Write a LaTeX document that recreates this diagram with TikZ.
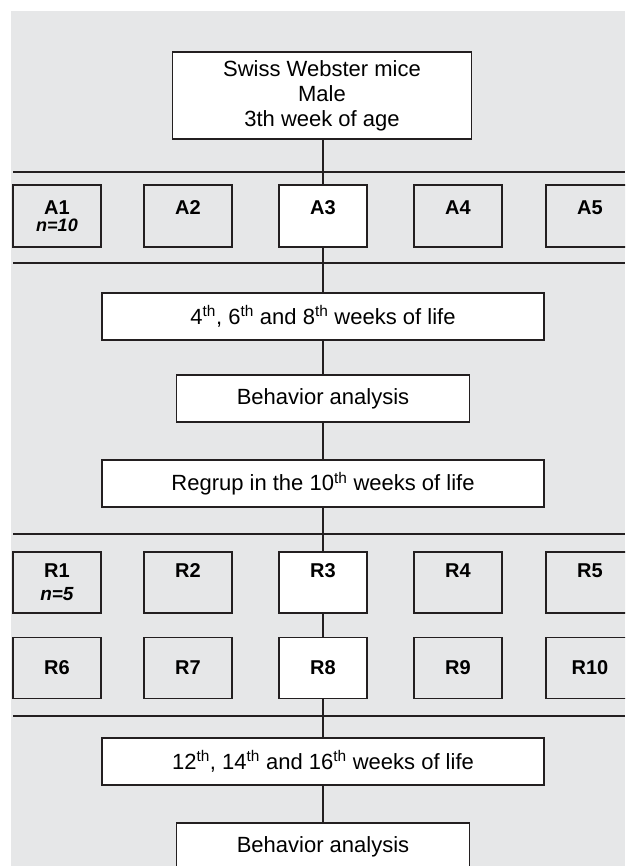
\documentclass[tikz,border=0pt]{standalone}
\usepackage{fontspec}
\setmainfont{Liberation Sans}
\definecolor{bg}{HTML}{E6E7E8}
\definecolor{ink}{HTML}{231F20}

\begin{document}
\begin{tikzpicture}[x=1pt,y=-1pt,
	box/.style={draw=ink,line width=1.8pt,fill=white,inner sep=0pt,minimum height=47pt,align=center,font=\fontsize{22}{25}\selectfont},
	grp/.style={draw=ink,line width=1.8pt,fill=bg,inner sep=0pt,minimum width=88pt,minimum height=62pt,align=center,font=\fontsize{20}{16.5}\selectfont\bfseries},
	rgrp/.style={grp,minimum height=61pt,font=\fontsize{20}{23}\selectfont\bfseries}]
\useasboundingbox (0,0) rectangle (625,866);
\begin{scope}
\clip (0,0) rectangle (625,866);
\fill[bg] (11,11) rectangle (625,866);

% separators
\draw[ink,line width=1.8pt] (13,172) -- (625,172);
\draw[ink,line width=1.8pt] (13,263) -- (625,263);
\draw[ink,line width=1.8pt] (13,534) -- (625,534);
\draw[ink,line width=1.8pt] (13,716) -- (625,716);

\node[box,minimum width=299pt,minimum height=87pt] (mice) at (322,95.5) {Swiss Webster mice\\Male\\3th week of age};

\node[grp] (A1) at (57,216) {A1\\{\fontsize{18}{16.5}\selectfont\textit{n=10}}};
\node[grp] (A2) at (188,216) {A2\\{\fontsize{18}{16.5}\selectfont\phantom{\textit{n=10}}}};
\node[grp,fill=white] (A3) at (323,216) {A3\\{\fontsize{18}{16.5}\selectfont\phantom{\textit{n=10}}}};
\node[grp] (A4) at (458,216) {A4\\{\fontsize{18}{16.5}\selectfont\phantom{\textit{n=10}}}};
\node[grp] (A5) at (590,216) {A5\\{\fontsize{18}{16.5}\selectfont\phantom{\textit{n=10}}}};

\node[box,minimum width=442pt] (wk1) at (323,316.5) {4\textsuperscript{th}, 6\textsuperscript{th} and 8\textsuperscript{th} weeks of life};
\node[box,minimum width=293pt] (beh1) at (323,398.5) {Behavior analysis};
\node[box,minimum width=442pt] (regr) at (323,483.5) {Regrup in the 10\textsuperscript{th} weeks of life};

\node[rgrp] (R1) at (57,582.5) {R1\\{\fontsize{19}{23}\selectfont\textit{n=5}}};
\node[rgrp] (R2) at (188,582.5) {R2\\{\fontsize{19}{23}\selectfont\phantom{\textit{n=5}}}};
\node[rgrp,fill=white] (R3) at (323,582.5) {R3\\{\fontsize{19}{23}\selectfont\phantom{\textit{n=5}}}};
\node[rgrp] (R4) at (458,582.5) {R4\\{\fontsize{19}{23}\selectfont\phantom{\textit{n=5}}}};
\node[rgrp] (R5) at (590,582.5) {R5\\{\fontsize{19}{23}\selectfont\phantom{\textit{n=5}}}};
\node[rgrp] (R6) at (57,668) {R6};
\node[rgrp] (R7) at (188,668) {R7};
\node[rgrp,fill=white] (R8) at (323,668) {R8};
\node[rgrp] (R9) at (458,668) {R9};
\node[rgrp] (R10) at (590,668) {R10};

\node[box,minimum width=442pt] (wk2) at (323,761.5) {12\textsuperscript{th}, 14\textsuperscript{th} and 16\textsuperscript{th} weeks of life};
\node[box,minimum width=293pt] (beh2) at (323,846.5) {Behavior analysis};

% main line
\draw[ink,line width=1.8pt] (mice.south -| A3) -- (A3);
\draw[ink,line width=1.8pt] (A3) -- (wk1);
\draw[ink,line width=1.8pt] (wk1) -- (beh1);
\draw[ink,line width=1.8pt] (beh1) -- (regr);
\draw[ink,line width=1.8pt] (regr) -- (R3);
\draw[ink,line width=1.8pt] (R3) -- (R8);
\draw[ink,line width=1.8pt] (R8) -- (wk2);
\draw[ink,line width=1.8pt] (wk2) -- (beh2);
\end{scope}
\end{tikzpicture}
\end{document}
